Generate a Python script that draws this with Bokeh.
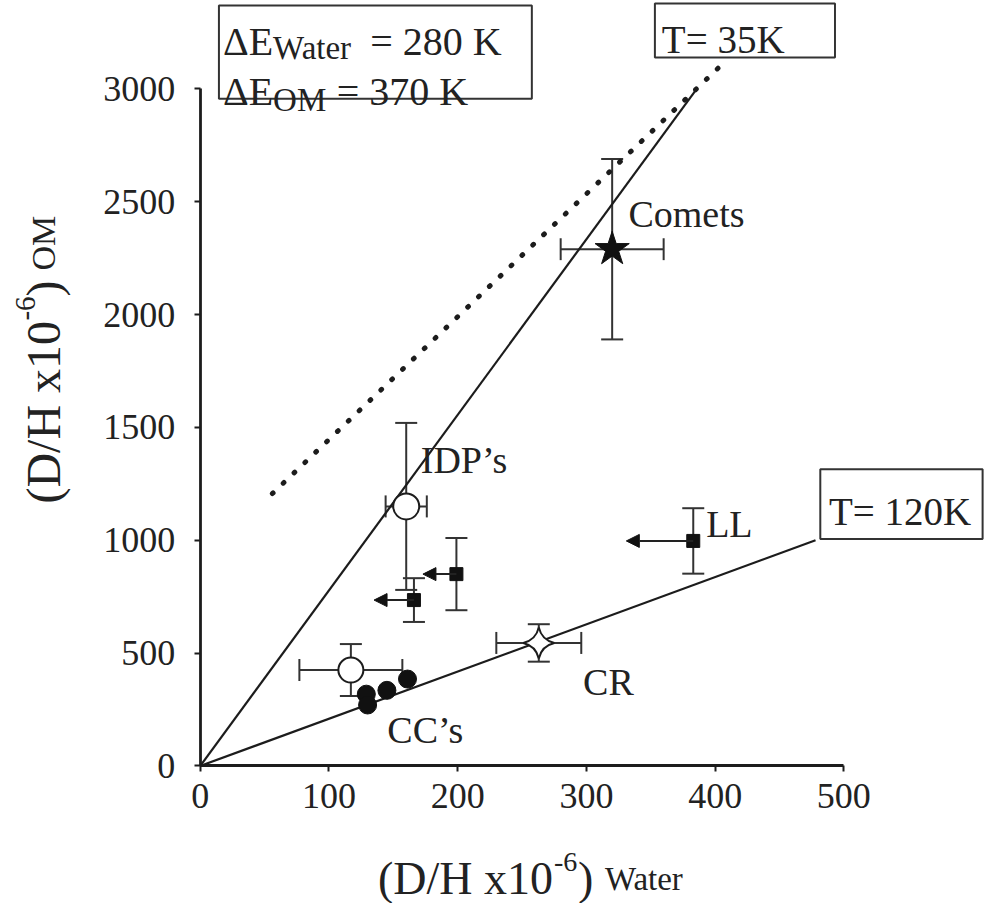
import math
from bokeh.plotting import figure
from bokeh.models import (ColumnDataSource, Whisker, TeeHead, Arrow, NormalHead,
                          Range1d, LinearAxis, FixedTicker)
from bokeh.core.properties import value
from bokeh.embed import file_html
from bokeh.resources import INLINE

# ---------------- data ----------------
comet_x = [320]
comet_y = [2290]
comet_xerr = [40]
comet_yerr = [400]

idp_x = [160]
idp_y = [1150]
idp_xerr = [16]
idp_yerr = [370]

cr_x = [263]
cr_y = [545]
cr_xerr = [33]
cr_yerr = [83]

cc_mean_x = [117]
cc_mean_y = [425]
cc_mean_xerr = [40]
cc_mean_yerr = [115]

cc_x = [161, 145, 129, 130]
cc_y = [385, 335, 318, 270]

# upper limits in water D/H (arrows pointing left)
lim_x = [166, 199, 383]
lim_y = [735, 850, 997]
lim_yerr = [97, 160, 145]
lim_arrow_to = [135, 173, 331]

# model lines
t35_x = [0, 385]
t35_y = [0, 2995]
t120_x = [0, 478]
t120_y = [0, 1000]
dot_x = [56, 408]
dot_y = [1207, 3123]

x_ticks = [0, 100, 200, 300, 400, 500]
y_ticks = [0, 500, 1000, 1500, 2000, 2500, 3000]

# ---------------- styling ----------------
SERIF = value("Liberation Serif")
INK = "#1c1c1c"
LBL = 38

p = figure(width=987, height=903,
           x_range=Range1d(-155.2, 611.6), y_range=Range1d(-609.6, 3391.8),
           output_backend="svg", toolbar_location=None,
           x_axis_type=None, y_axis_type=None,
           min_border_left=0, min_border_right=0, min_border_top=0, min_border_bottom=0)
p.outline_line_color = None
p.background_fill_color = "white"
p.border_fill_color = "white"

def style_axis(ax):
    ax.axis_line_width = 2.8
    ax.axis_line_color = INK
    ax.major_tick_line_color = INK
    ax.major_tick_line_width = 2
    ax.major_tick_in = 0
    ax.major_tick_out = 6
    ax.minor_tick_in = 0
    ax.minor_tick_out = 0
    ax.major_label_text_font = "Liberation Serif"
    ax.major_label_text_font_size = "36px"
    ax.major_label_text_color = "#222222"

xaxis = LinearAxis(fixed_location=0, bounds=(0, 500), ticker=FixedTicker(ticks=x_ticks))
style_axis(xaxis)
xaxis.major_label_standoff = 12
p.add_layout(xaxis, "below")

yaxis = LinearAxis(fixed_location=0, bounds=(0, 3000), ticker=FixedTicker(ticks=y_ticks))
style_axis(yaxis)
yaxis.major_label_standoff = 19
p.add_layout(yaxis, "left")

# ---------------- model lines ----------------
p.line(dot_x, dot_y, line_color=INK, line_width=5, line_dash="1 14", line_cap="round")
p.line(t35_x, t35_y, line_color=INK, line_width=2.2)
p.line(t120_x, t120_y, line_color=INK, line_width=2.2)

# ---------------- error bars ----------------
vx = comet_x + idp_x + cr_x + cc_mean_x + lim_x
vy = comet_y + idp_y + cr_y + cc_mean_y + lim_y
ve = comet_yerr + idp_yerr + cr_yerr + cc_mean_yerr + lim_yerr
vsrc = ColumnDataSource(dict(base=vx, lower=[a - b for a, b in zip(vy, ve)],
                             upper=[a + b for a, b in zip(vy, ve)]))
hx = comet_x + idp_x + cr_x + cc_mean_x
hy = comet_y + idp_y + cr_y + cc_mean_y
he = comet_xerr + idp_xerr + cr_xerr + cc_mean_xerr
hsrc = ColumnDataSource(dict(base=hy, lower=[a - b for a, b in zip(hx, he)],
                             upper=[a + b for a, b in zip(hx, he)]))

def head():
    return TeeHead(size=22, line_color="#333333", line_width=2)

p.add_layout(Whisker(source=vsrc, base="base", lower="lower", upper="upper", dimension="height",
                     line_color="#333333", line_width=2, lower_head=head(), upper_head=head(),
                     level="underlay"))
p.add_layout(Whisker(source=hsrc, base="base", lower="lower", upper="upper", dimension="width",
                     line_color="#333333", line_width=2, lower_head=head(), upper_head=head(),
                     level="underlay"))

asrc = ColumnDataSource(dict(x0=lim_x, y0=lim_y, x1=lim_arrow_to, y1=lim_y))
p.add_layout(Arrow(source=asrc, x_start="x0", y_start="y0", x_end="x1", y_end="y1",
                   line_color="#222222", line_width=2,
                   end=NormalHead(size=13, fill_color="#111111", line_color="#111111", line_width=1)))

# ---------------- markers ----------------
p.scatter(cc_x, cc_y, marker="circle", size=18, fill_color="#111111", line_color="#111111")
p.scatter(lim_x, lim_y, marker="square", size=13, fill_color="#111111", line_color="#111111")
p.scatter(idp_x, idp_y, marker="circle", size=26, fill_color="white", line_color=INK, line_width=2)
p.scatter(cc_mean_x, cc_mean_y, marker="circle", size=25, fill_color="white", line_color=INK, line_width=2)
p.scatter(cr_x, cr_y, marker="square_pin", angle=math.pi / 4, size=22,
          fill_color="white", line_color=INK, line_width=2)
p.scatter(comet_x, comet_y, marker="star", size=36, fill_color="#111111", line_color="#111111")

# ---------------- annotation boxes ----------------
p.quad(left=[14.5, 353.2, 481.7], right=[257.6, 493.1, 607.8],
       bottom=[2956, 3139, 1005.8], top=[3370, 3379, 1314.9],
       fill_color="white", line_color="#333333", line_width=2)

def txt(x, y, s, size, xo=0, yo=0, angle=0.0):
    p.text(x=[x], y=[y], text=[s], text_font=SERIF, text_font_size=f"{size}px",
           text_color="#222222", text_align="left", text_baseline="alphabetic",
           x_offset=xo, y_offset=yo, angle=angle)

# box 1: activation energies
txt(17.6, 3209, "ΔE", 40)
txt(56.6, 3183, "Water", 33)
txt(132, 3209, "= 280 K", 40)
txt(17.6, 2987, "ΔE", 40)
txt(56.6, 2952, "OM", 33)
txt(106, 2987, "= 370 K", 40)

# temperature boxes
txt(358.6, 3217.6, "T= 35K", 39)
txt(488.5, 1127.7, "T= 120K", 39)

# point labels
txt(332.6, 2447, "Comets", LBL)
txt(171.3, 1354, "IDP’s", LBL)
txt(393, 1071, "LL", LBL)
txt(297.4, 370, "CR", LBL)
txt(145.3, 161, "CC’s", LBL)

# x axis title
ax0, ay0 = 138, -500
txt(ax0, ay0, "(D/H x10", 46)
txt(ax0, ay0, "-6", 28, xo=176, yo=-17)
txt(ax0, ay0, ")", 46, xo=200)
txt(ax0, ay0, "Water", 33, xo=227)

# y axis title (rotated)
bx0, by0 = -122, 1162.5
r = math.pi / 2
txt(bx0, by0, "(D/H x10", 48, angle=r)
txt(bx0, by0, "-6", 29, xo=-18, yo=-183, angle=r)
txt(bx0, by0, ")", 48, yo=-207, angle=r)
txt(bx0, by0, "OM", 34, yo=-233, angle=r)

open("out.html", "w").write(file_html(p, INLINE))
